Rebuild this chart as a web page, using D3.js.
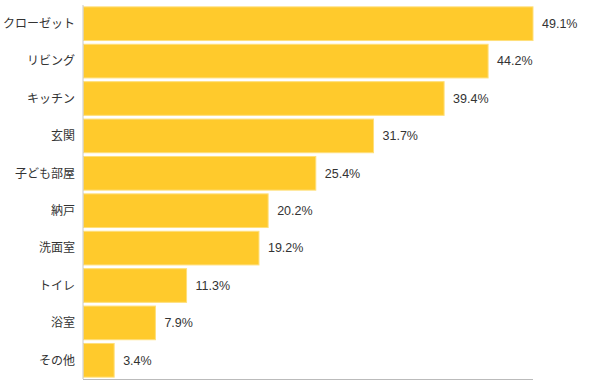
<!DOCTYPE html>
<html>
<head>
<meta charset="utf-8">
<script src="https://cdn.jsdelivr.net/npm/d3@7"></script>
<style>
  body { margin: 0; background: #fff; }
  text { font-family: "Noto Sans CJK JP", "Noto Sans", sans-serif; fill: #333; }
  text.val { font-family: "Liberation Sans", Arial, sans-serif; }
</style>
</head>
<body>
<svg id="chart"></svg>
<script>
// categories and values
const categories = ['クローゼット', 'リビング', 'キッチン', '玄関', '子ども部屋', '納戸', '洗面室', 'トイレ', '浴室', 'その他'];
const values = [49.1, 44.2, 39.4, 31.7, 25.4, 20.2, 19.2, 11.3, 7.9, 3.4];

const width = 601, height = 391;
const margin = {top: 5, right: 68, bottom: 12, left: 83};

const svg = d3.select('#chart')
    .attr('width', width)
    .attr('height', height);

const x = d3.scaleLinear()
    .domain([0, d3.max(values)])
    .range([margin.left, width - margin.right]);

const y = d3.scaleBand()
    .domain(categories)
    .range([margin.top, height - margin.bottom])
    .paddingInner(0.1)
    .paddingOuter(0.05);

const data = categories.map((c, i) => ({cat: c, val: values[i]}));

// bars
svg.selectAll('.bar')
    .data(data)
  .join('rect')
    .attr('class', 'bar')
    .attr('x', x(0) + 0.5)
    .attr('y', d => y(d.cat))
    .attr('width', d => x(d.val) - x(0) - 0.5)
    .attr('height', y.bandwidth())
    .attr('fill', '#ffca2c')
    .attr('stroke', '#ffdf7a')
    .attr('stroke-width', 1);

// value labels
svg.selectAll('.val')
    .data(data)
  .join('text')
    .attr('class', 'val')
    .attr('x', d => x(d.val) + 9)
    .attr('y', d => y(d.cat) + y.bandwidth() / 2)
    .attr('dy', '0.35em')
    .attr('font-size', '12.5px')
    .text(d => d.val.toFixed(1) + '%');

// category labels
svg.selectAll('.cat')
    .data(data)
  .join('text')
    .attr('class', 'cat')
    .attr('x', x(0) - 8)
    .attr('y', d => y(d.cat) + y.bandwidth() / 2)
    .attr('dy', '0.35em')
    .attr('text-anchor', 'end')
    .attr('font-size', '12px')
    .text(d => d.cat);

// axis lines
svg.append('line')
    .attr('x1', x(0)).attr('x2', x(0))
    .attr('y1', margin.top).attr('y2', height - margin.bottom)
    .attr('stroke', '#c8c8c8');

svg.append('line')
    .attr('x1', x(0)).attr('x2', x(d3.max(values)))
    .attr('y1', height - margin.bottom + 0.5).attr('y2', height - margin.bottom + 0.5)
    .attr('stroke', '#bbb');
</script>
</body>
</html>
